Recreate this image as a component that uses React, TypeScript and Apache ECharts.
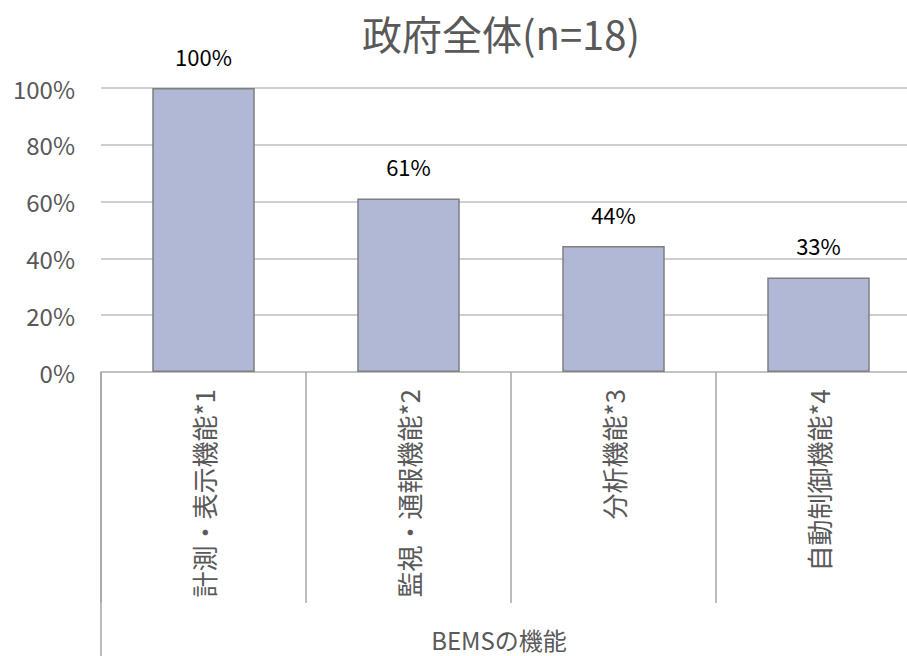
import React, { useEffect, useRef } from "react";
import * as echarts from "echarts";

const titleText = "政府全体(n=18)";
const categories = ["計測・表示機能*1", "監視・通報機能*2", "分析機能*3", "自動制御機能*4"];
const values = [1.0, 0.611, 0.444, 0.333];
const groupLabel = ["BEMSの機能"];

const FONT = "'Noto Sans CJK JP', 'Noto Sans', sans-serif";

export default function App() {
  const ref = useRef<HTMLDivElement>(null);
  useEffect(() => {
    if (!ref.current) return;
    const chart = echarts.init(ref.current, null, { renderer: "svg" });
    chart.setOption({
      animation: false,
      backgroundColor: "#ffffff",
      textStyle: { fontFamily: FONT },
      title: {
        text: titleText,
        left: 496,
        top: 8,
        textAlign: "center",
        textStyle: { fontFamily: FONT, fontSize: 40, fontWeight: "normal", color: "#595959" },
      },
      grid: { left: 101, top: 88, width: 820, height: 284, outerBoundsMode: "none", containLabel: false },
      xAxis: [
        {
          type: "category",
          data: categories,
          position: "bottom",
          axisLine: { show: true, lineStyle: { color: "#bfbfbf", width: 1.5 } },
          axisTick: { show: true, interval: 0, length: 231, lineStyle: { color: "#a6a6a6", width: 1.5 } },
          axisLabel: {
            interval: 0,
            rotate: 90,
            margin: 17,
            fontFamily: FONT,
            fontSize: 26,
            color: "#595959",
          },
        },
        {
          type: "category",
          data: groupLabel,
          position: "bottom",
          axisLine: { show: false },
          axisTick: { show: true, length: 290, lineStyle: { color: "#a6a6a6", width: 1.5 } },
          axisLabel: {
            margin: 255,
            padding: [0, 24, 0, 0],
            fontFamily: FONT,
            fontSize: 24,
            color: "#595959",
          },
        },
      ],
      yAxis: {
        type: "value",
        min: 0,
        max: 1,
        interval: 0.2,
        axisLine: { show: false },
        axisTick: { show: false },
        splitLine: { lineStyle: { color: "#bfbfbf", width: 1.5 } },
        axisLabel: {
          margin: 26,
          fontFamily: FONT,
          fontSize: 24,
          color: "#595959",
          formatter: (v: number) => Math.round(v * 100) + "%",
        },
      },
      series: [
        {
          type: "bar",
          xAxisIndex: 0,
          data: values,
          barWidth: "50%",
          itemStyle: { color: "#b0b8d6", borderColor: "#7f7f7f", borderWidth: 1.5 },
          label: {
            show: true,
            position: "top",
            distance: 21,
            fontFamily: FONT,
            fontSize: 22,
            color: "#000000",
            formatter: (p: any) => Math.round(p.value * 100) + "%",
          },
        },
      ],
    });
    return () => chart.dispose();
  }, []);
  return (
    <div
      ref={ref}
      style={{ position: "fixed", left: 0, top: 0, width: 907, height: 656 }}
    />
  );
}
